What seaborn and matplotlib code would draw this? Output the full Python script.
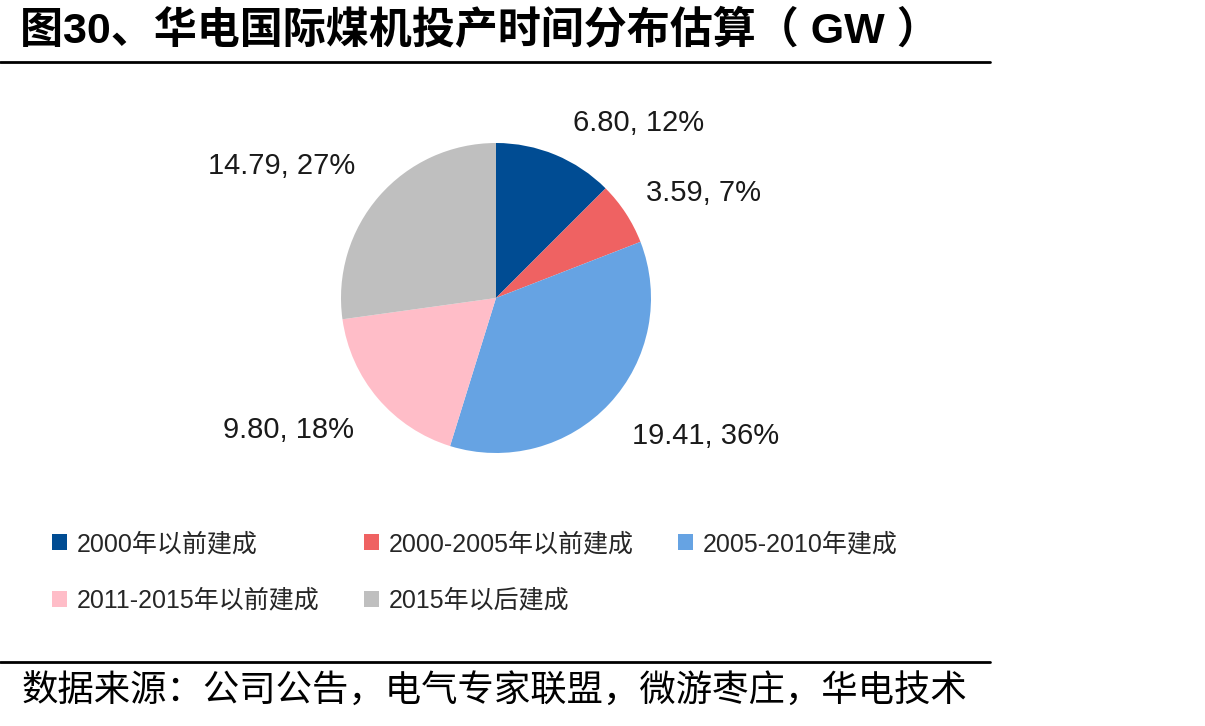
import matplotlib
matplotlib.use("Agg")
import matplotlib.pyplot as plt
from matplotlib.lines import Line2D
from matplotlib.patches import Patch
import seaborn as sns

# ── Daten ────────────────────────────────────────────────────────────────
categories = ["2000年以前建成", "2000-2005年以前建成", "2005-2010年建成",
              "2011-2015年以前建成", "2015年以后建成"]
capacity_gw = [6.80, 3.59, 19.41, 9.80, 14.79]
share_pct = [12, 7, 36, 18, 27]
colors = ["#004C93", "#EF6262", "#66A3E3", "#FFBDC8", "#BFBFBF"]

title = "图30、华电国际煤机投产时间分布估算（ GW ）"
source = "数据来源：公司公告，电气专家联盟，微游枣庄，华电技术"

# Label-Positionen relativ zum Radius (Excel "best fit")
label_pos = [(0.92, 1.13), (1.34, 0.68), (1.35, -0.89), (-1.34, -0.85), (-1.38, 0.85)]

sns.set_style("white")
plt.rcParams["font.family"] = ["Liberation Sans", "Noto Sans CJK SC", "DejaVu Sans"]

W, H = 1205, 726
fig = plt.figure(figsize=(W / 100, H / 100), dpi=100)

# Pie: Mittelpunkt (496, 298) px, Radius 155 px
R = 155
cx, cy = 496, H - 298
ax = fig.add_axes([(cx - 2 * R) / W, (cy - 2 * R) / H, 4 * R / W, 4 * R / H])
ax.pie(capacity_gw, colors=colors, startangle=90, counterclock=False,
       radius=1, wedgeprops=dict(linewidth=0))
ax.set_xlim(-2, 2)
ax.set_ylim(-2, 2)
ax.axis("off")

for (lx, ly), v, p in zip(label_pos, capacity_gw, share_pct):
    ax.text(lx, ly, f"{v:.2f}, {p}%", ha="center", va="center",
            fontsize=21, color="#1a1a1a")

# Titel und Linien
fig.text(20 / W, 1 - 30 / H, title, fontsize=31, fontweight="bold",
         ha="left", va="center", color="black")
fig.add_artist(Line2D([0, 990 / W], [1 - 62 / H] * 2, color="black", lw=2))
fig.add_artist(Line2D([0, 990 / W], [1 - 662 / H] * 2, color="black", lw=2))
fig.text(22 / W, 1 - 692 / H, source, fontsize=26.2, ha="left", va="center",
         color="black")

# Legende zeilenweise wie in Excel
handles = [Patch(facecolor=c, edgecolor="none", label=l)
           for c, l in zip(colors, categories)]
order = [0, 3, 1, 4, 2]
fig.legend([handles[i] for i in order], [categories[i] for i in order],
           ncol=3, loc="upper left", bbox_to_anchor=(42 / W, 1 - 522 / H),
           frameon=False, fontsize=18, handlelength=0.6, handleheight=0.6,
           handletextpad=0.4, columnspacing=1.76, labelspacing=1.3,
           borderaxespad=0)

fig.savefig("out.png", dpi=100)
